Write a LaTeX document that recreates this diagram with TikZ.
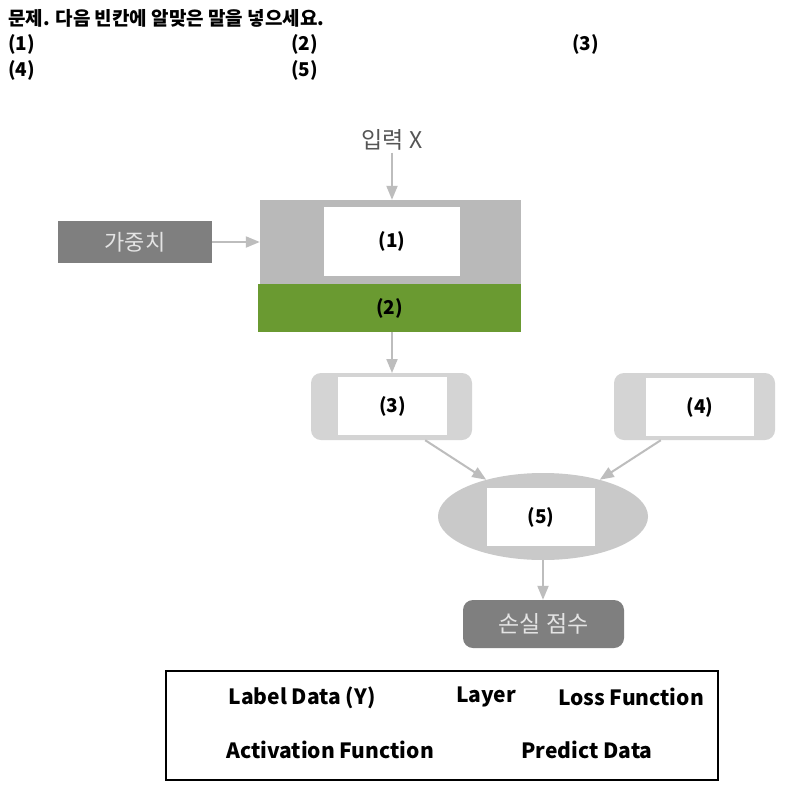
\documentclass[tikz,border=0pt]{standalone}
\usepackage{fontspec}
\setmainfont{Noto Sans CJK KR}
\usetikzlibrary{arrows.meta,shapes.geometric}

\definecolor{layergray}{HTML}{B9B9B9}
\definecolor{actgreen}{HTML}{6A9A31}
\definecolor{darkbox}{HTML}{7F7F7F}
\definecolor{lightbox}{HTML}{D4D4D4}
\definecolor{ellgray}{HTML}{C9C9C9}
\definecolor{arrowgray}{HTML}{BDBDBD}
\definecolor{paletext}{HTML}{E4E4E4}
\definecolor{inputtext}{HTML}{555555}

\begin{document}
\begin{tikzpicture}[x=1pt,y=1pt,
  question/.style={font=\bfseries\fontsize{19}{22}\selectfont,anchor=west,inner sep=0pt},
  blank/.style={fill=white,inner sep=0pt,font=\bfseries\fontsize{19}{22}\selectfont},
  flow/.style={draw=arrowgray,line width=2pt,-{Triangle[length=14pt,width=11pt]}},
  legendtext/.style={font=\bfseries\fontsize{21}{24}\selectfont,inner sep=0pt}]
\useasboundingbox (0,0) rectangle (798,-804);
\fill[white] (0,0) rectangle (798,-804);

% QUESTION
\node[question] (q) at (8,-18) {문제. 다음 빈칸에 알맞은 말을 넣으세요.};
\node[question] (a1) at (8,-44) {(1)};
\node[question] (a2) at (291,-44) {(2)};
\node[question] (a3) at (572,-44) {(3)};
\node[question] (a4) at (8,-70) {(4)};
\node[question] (a5) at (291,-70) {(5)};

% LAYER AND ACTIVATION
\node[font=\fontsize{23}{26}\selectfont,text=inputtext,inner sep=2pt] (input) at (392,-140) {입력 X};
\node[fill=layergray,minimum width=261pt,minimum height=85pt,inner sep=0pt] (layer) at (390.5,-242.5) {};
\node[blank,minimum width=136pt,minimum height=69pt] (b1) at (392,-241.5) {(1)};
\node[fill=actgreen,minimum width=263pt,minimum height=48pt,inner sep=0pt,
  font=\bfseries\fontsize{19}{22}\selectfont] (act) at (389.5,-308) {(2)};
\node[fill=darkbox,text=paletext,minimum width=154pt,minimum height=42pt,inner sep=0pt,
  font=\fontsize{22}{25}\selectfont] (weight) at (135,-242) {가중치};
\draw[flow] (input.south) -- (input.south |- layer.north);
\draw[flow] (weight.east) -- (weight.east -| layer.west);
\draw[flow] (act.south -| input.south) -- (input.south |- 0,-373);

% PREDICTION, LABEL, LOSS
\node[fill=lightbox,rounded corners=10pt,minimum width=161pt,minimum height=67pt] (pred) at (391.5,-406.5) {};
\node[blank,minimum width=109pt,minimum height=58pt] (b3) at (392.5,-406) {(3)};
\node[fill=lightbox,rounded corners=10pt,minimum width=161pt,minimum height=67pt] (label) at (694.5,-406.5) {};
\node[blank,minimum width=108pt,minimum height=58pt] (b4) at (700,-407) {(4)};
\node[ellipse,fill=ellgray,minimum width=210pt,minimum height=87pt,inner sep=0pt] (loss) at (543,-516.5) {};
\node[blank,minimum width=108pt,minimum height=58pt] (b5) at (541,-517) {(5)};
\node[fill=darkbox,text=paletext,rounded corners=10pt,minimum width=161pt,minimum height=48pt,
  font=\fontsize{23}{26}\selectfont] (score) at (543.5,-624) {손실 점수};
\draw[flow] (pred.-45) -- (loss);
\draw[flow] (label.-135) -- (loss);
\draw[flow] (loss.south) -- (loss.south |- score.north);

% ANSWER CHOICES
\node[draw=black,line width=1.8pt,minimum width=552pt,minimum height=109pt] (choices) at (442,-725.5) {};
\node[legendtext] (c1) at (302,-698) {Label Data (Y)};
\node[legendtext] (c2) at (486,-697) {Layer};
\node[legendtext] (c3) at (631,-697) {Loss Function};
\node[legendtext] (c4) at (330,-750) {Activation Function};
\node[legendtext] (c5) at (587,-750) {Predict Data};
\end{tikzpicture}
\end{document}
